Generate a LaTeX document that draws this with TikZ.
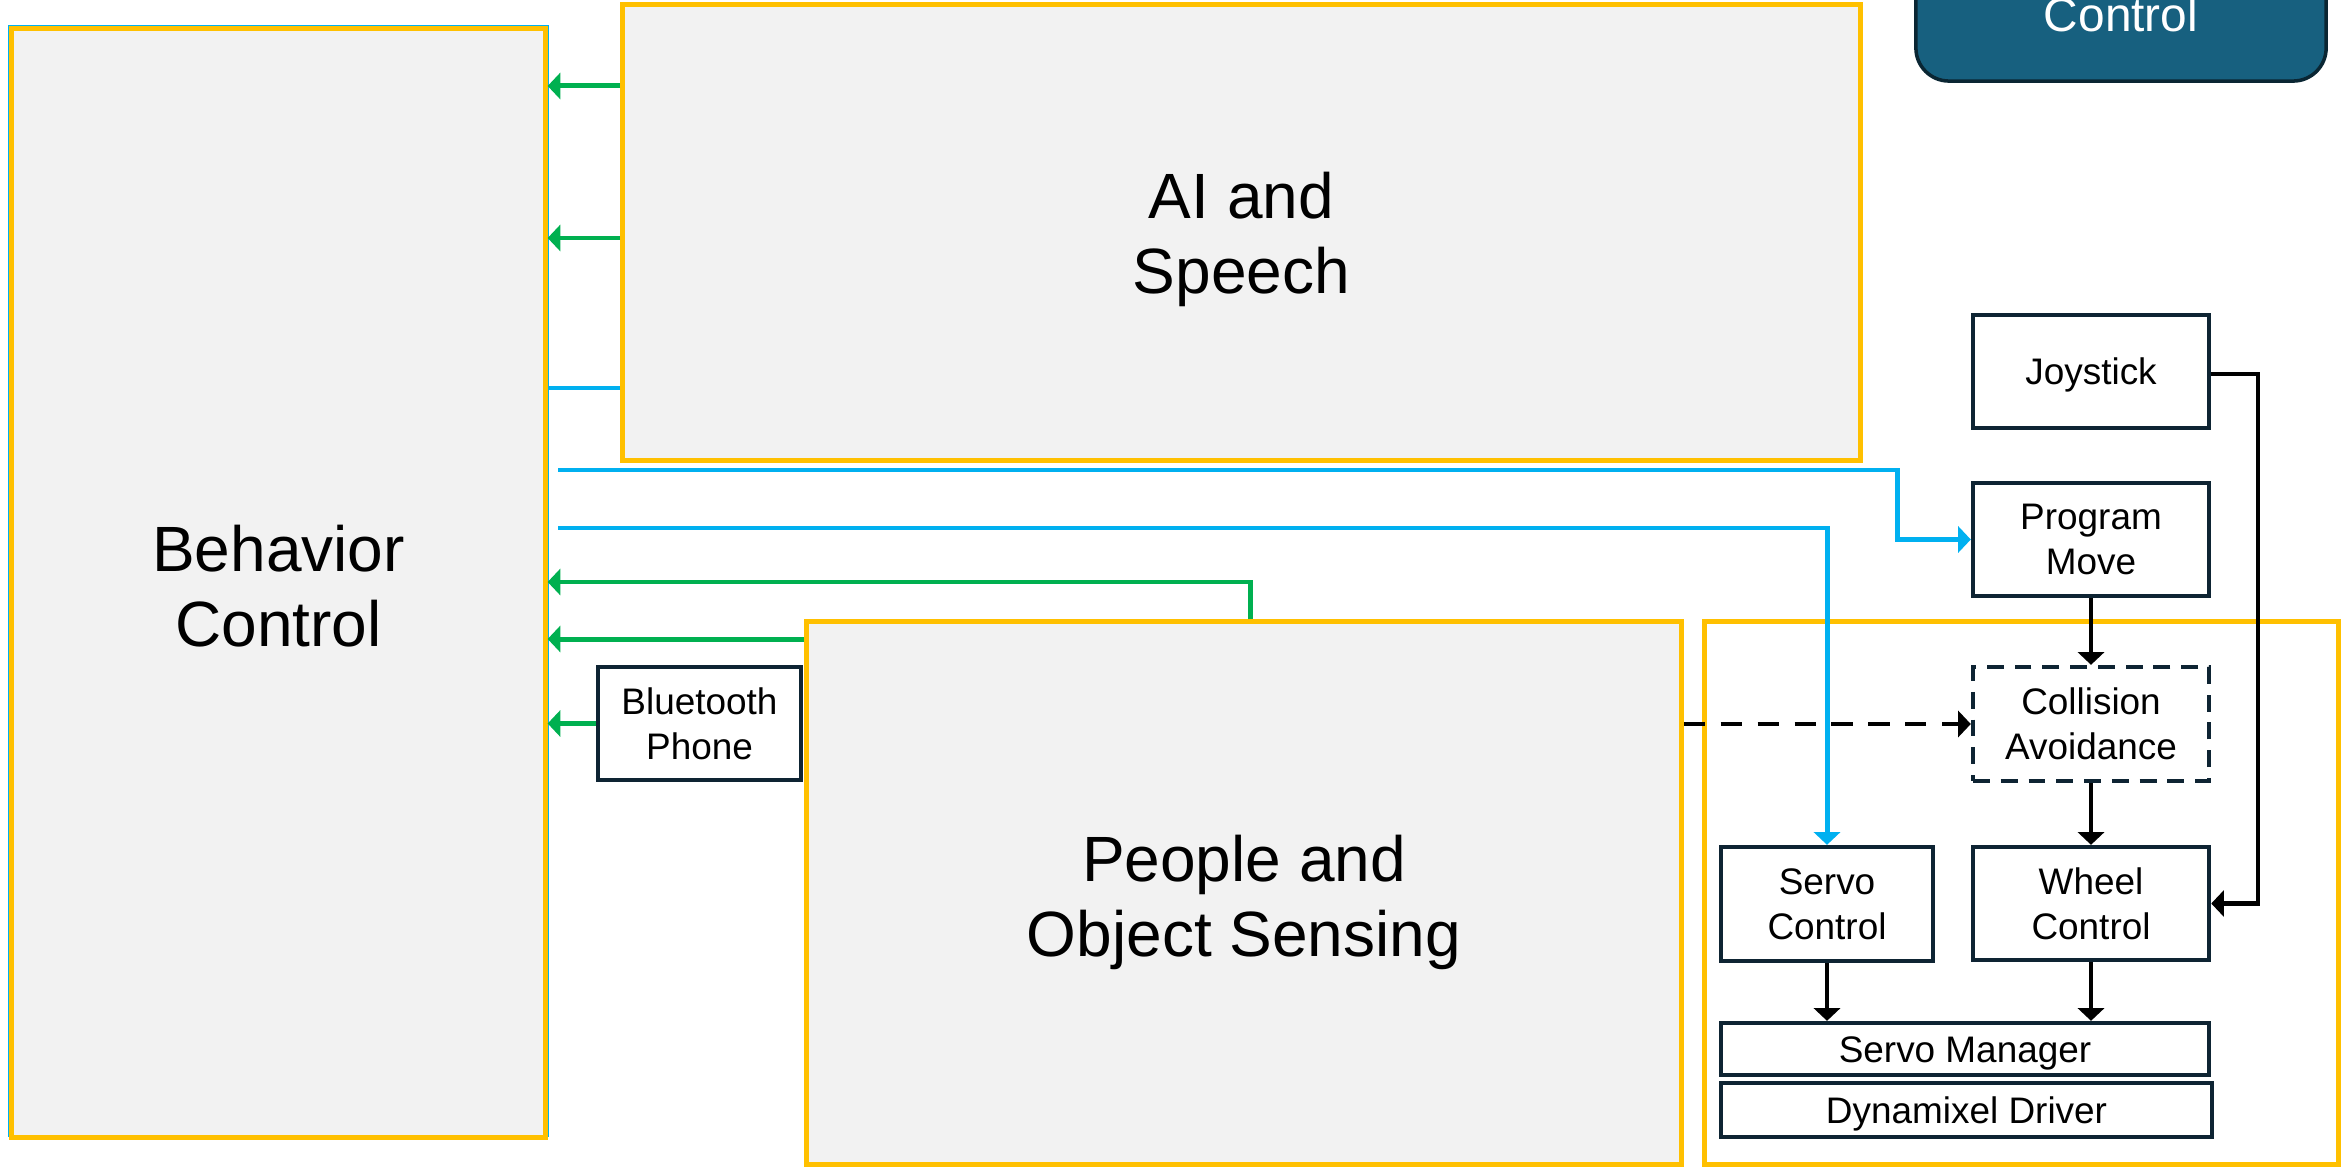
\documentclass[tikz,border=0pt]{standalone}
\usepackage{fontspec}
\setmainfont{Liberation Sans}
\usetikzlibrary{arrows.meta}
\definecolor{amber}{HTML}{FFC000}
\definecolor{leaf}{HTML}{00B050}
\definecolor{sky}{HTML}{00B0F0}
\definecolor{panel}{HTML}{F2F2F2}
\definecolor{ink}{HTML}{0E2433}
\definecolor{deepteal}{HTML}{17607F}
\definecolor{tealedge}{HTML}{0A2633}
\begin{document}
\begin{tikzpicture}[x=0.01cm,y=-0.01cm,
  group/.style={draw=amber, line width=1.42pt, fill=panel, inner sep=0pt},
  biglbl/.style={inner sep=0pt, font=\fontsize{18.2}{21.3}\selectfont, align=center},
  frame/.style={draw=amber, line width=1.42pt, inner sep=0pt},
  unit/.style={draw=ink, line width=1.22pt, fill=white, inner sep=0pt,
    font=\fontsize{10.5}{12.8}\selectfont, align=center},
  oneline/.style={text height=7.5pt, text depth=0pt},
  tip/.style={-{Triangle[length=3.6pt,width=7.4pt]}},
  gline/.style={leaf, line width=1.42pt, tip},
  bline/.style={sky, line width=1.42pt},
  kline/.style={black, line width=1.22pt, tip},
]
\useasboundingbox (0,0) rectangle (2343,1167);
\clip (0,0) rectangle (2343,1167);

% outer panels
\draw[sky, line width=0.8pt] (9,26) rectangle (548,1136);
\node[group, minimum width=5.33cm, minimum height=11.08cm,
      label={[biglbl, yshift=-0.03cm]center:Behavior\\Control}] (behavior) at (278.5,583) {};
\node[group, minimum width=12.37cm, minimum height=4.55cm,
      label={[biglbl, yshift=-0.065cm]center:AI and\\Speech}] (speech) at (1241.5,232.5) {};
\node[group, minimum width=8.74cm, minimum height=5.42cm,
      label={[biglbl, yshift=-0.09cm]center:People and\\Object Sensing}] (sensing) at (1244,893) {};
\node[frame, minimum width=6.33cm, minimum height=5.42cm] (motionframe) at (2021.5,893) {};

% motion header, running off the top edge
\node[draw=tealedge, line width=1pt, fill=deepteal, rounded corners=0.33cm,
      minimum width=4.10cm, minimum height=2.31cm, inner sep=0pt] (motionhead) at (2121,-34.5) {};
\node[text=white, anchor=base, inner sep=0pt, font=\fontsize{13.6}{16}\selectfont] (motionlbl) at (2121,32) {Control};

% small blocks
\node[unit, minimum width=2.03cm, minimum height=1.13cm] (phone) at (699.5,723.5) {Bluetooth\\Phone};
\node[unit, oneline, minimum width=2.36cm, minimum height=1.13cm] (joystick) at (2091,371.5) {Joystick};
\node[unit, minimum width=2.36cm, minimum height=1.13cm] (progmove) at (2091,539.5) {Program\\Move};
\node[unit, dash pattern=on 4.8pt off 3.1pt, minimum width=2.36cm, minimum height=1.14cm] (collision) at (2091,724) {Collision\\Avoidance};
\node[unit, minimum width=2.12cm, minimum height=1.14cm] (servoctl) at (1827,904) {Servo\\Control};
\node[unit, minimum width=2.36cm, minimum height=1.13cm] (wheelctl) at (2091,903.5) {Wheel\\Control};
\node[unit, oneline, minimum width=4.88cm, minimum height=0.52cm] (servomgr) at (1965,1049) {Servo Manager};
\node[unit, oneline, minimum width=4.91cm, minimum height=0.54cm] (dxl) at (1966.5,1110) {Dynamixel Driver};

% routing levels
\coordinate (r1) at (0,86);
\coordinate (r2) at (0,238);
\coordinate (r3) at (0,388);
\coordinate (b1s) at (558,470);
\coordinate (b1k) at (1897,470);
\coordinate (b2s) at (558,528);
\coordinate (g3) at (1250,582);
\coordinate (r4) at (0,639);
\coordinate (jk) at (2258,374);

% connectors into behaviour control
\draw[gline] (speech.west |- r1) -- (behavior.east |- r1);
\draw[gline] (speech.west |- r2) -- (behavior.east |- r2);
\draw[bline] (speech.west |- r3) -- (behavior.east |- r3);
\draw[gline] (g3 |- sensing.north) -- (g3) -- (behavior.east |- g3);
\draw[gline] (sensing.west |- r4) -- (behavior.east |- r4);
\draw[gline] (phone.west) -- (behavior.east |- phone.west);

% commands out of behaviour control
\draw[bline, tip] (b1s) -| (b1k |- progmove.west) -- (progmove.west);
\draw[bline, tip] (b2s) -| (servoctl.north);

% motion chain
\draw[kline, dash pattern=on 6pt off 4.5pt] (sensing.east |- collision.west) -- (collision.west);
\draw[kline] (joystick.east |- jk) -| (jk |- wheelctl.east) -- (wheelctl.east);
\draw[kline] (progmove.south) -- (collision.north);
\draw[kline] (collision.south) -- (wheelctl.north);
\draw[kline] (servoctl.south) -- (servoctl.south |- servomgr.north);
\draw[kline] (wheelctl.south) -- (wheelctl.south |- servomgr.north);
\end{tikzpicture}
\end{document}
